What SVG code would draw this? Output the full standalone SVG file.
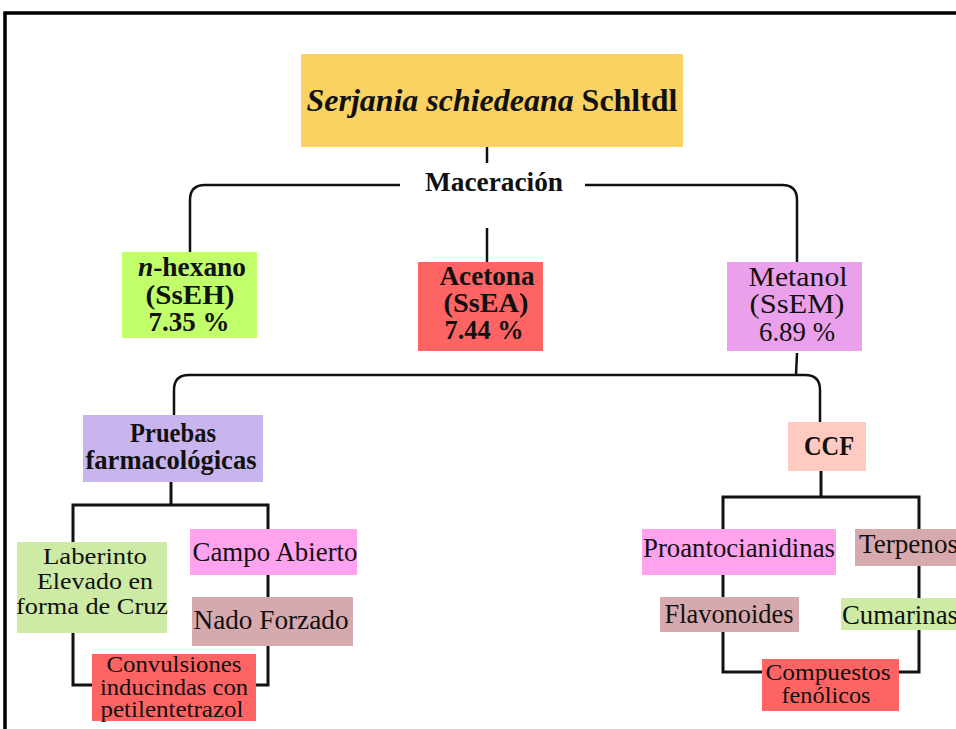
<svg xmlns="http://www.w3.org/2000/svg" width="956" height="729" viewBox="0 0 956 729">
<style>
text{font-family:"Liberation Serif","Times New Roman",serif;fill:#111}
.m{text-anchor:middle}
.s{text-anchor:start}
.b{font-weight:bold;font-size:27px}
.n{font-size:27px}
.t{font-size:24px}
.c1{fill:none;stroke:#111;stroke-width:2.5}
.c2{fill:none;stroke:#111;stroke-width:3}
</style>
<rect x="5" y="13" width="1000" height="800" fill="#fff" stroke="#000" stroke-width="3.5"/>
<g id="connectors">
<path class="c1" d="M487,147 V163"/>
<path class="c1" d="M400,185 H205 Q190,185 190,200 V252"/>
<path class="c1" d="M585,185 H782 Q797,185 797,200 V262"/>
<path class="c1" d="M487,228 V262"/>
<path class="c1" d="M797,353 L796,375"/>
<path class="c1" d="M174,415 V390 Q174,375 189,375 H805 Q820,375 820,390 V422"/>
<path class="c2" d="M171,482 V505"/>
<path class="c2" d="M73,542 V505 H268 V529"/>
<path class="c2" d="M268,575 V597"/>
<path class="c2" d="M268,646 V685 H256"/>
<path class="c2" d="M73,633 V685 H92"/>
<path class="c2" d="M821,471 V497"/>
<path class="c2" d="M723,529 V497 H919 V529"/>
<path class="c2" d="M723,575 V597"/>
<path class="c2" d="M723,632 V672 H762"/>
<path class="c2" d="M919,566 V598"/>
<path class="c2" d="M919,630 V672 H899"/>
</g>
<g id="title">
<rect x="301" y="54" width="382" height="93" fill="#F9D262"/>
<text class="m" x="492" y="111" font-size="32" font-weight="bold" textLength="371" lengthAdjust="spacingAndGlyphs"><tspan font-style="italic">Serjania schiedeana</tspan> Schltdl</text>
</g>
<g id="maceracion">
<text class="b m" x="494" y="191" textLength="138" lengthAdjust="spacingAndGlyphs">Maceración</text>
</g>
<g id="hexano">
<rect x="122" y="252" width="135" height="86" fill="#C0FF6A"/>
<text class="b m" x="192" y="276" textLength="108" lengthAdjust="spacingAndGlyphs"><tspan font-style="italic">n</tspan>-hexano</text>
<text class="b m" x="190" y="304" textLength="89" lengthAdjust="spacingAndGlyphs">(SsEH)</text>
<text class="b m" x="189" y="331" textLength="81" lengthAdjust="spacingAndGlyphs">7.35 %</text>
</g>
<g id="acetona">
<rect x="418" y="262" width="125" height="89" fill="#FF6464"/>
<text class="b m" x="487" y="285" textLength="95" lengthAdjust="spacingAndGlyphs">Acetona</text>
<text class="b m" x="486" y="312" textLength="85" lengthAdjust="spacingAndGlyphs">(SsEA)</text>
<text class="b m" x="484" y="339" textLength="79" lengthAdjust="spacingAndGlyphs">7.44 %</text>
</g>
<g id="metanol">
<rect x="727" y="262" width="135" height="89" fill="#EBA0EB"/>
<text class="n m" x="798" y="286" textLength="99" lengthAdjust="spacingAndGlyphs">Metanol</text>
<text class="n m" x="797" y="313" textLength="95" lengthAdjust="spacingAndGlyphs">(SsEM)</text>
<text class="n m" x="797" y="341" textLength="76" lengthAdjust="spacingAndGlyphs">6.89 %</text>
</g>
<g id="pruebas">
<rect x="83" y="415" width="180" height="67" fill="#C8B5EE"/>
<text class="b m" x="173" y="442" textLength="86" lengthAdjust="spacingAndGlyphs">Pruebas</text>
<text class="b m" x="171" y="469" textLength="171" lengthAdjust="spacingAndGlyphs">farmacológicas</text>
</g>
<g id="ccf">
<rect x="788" y="422" width="78" height="49" fill="#FFCBC0"/>
<text class="b m" x="829" y="455" textLength="50" lengthAdjust="spacingAndGlyphs">CCF</text>
</g>
<g id="laberinto">
<rect x="17" y="542" width="150" height="91" fill="#CDEBA5"/>
<text class="t m" x="95" y="564" textLength="104" lengthAdjust="spacingAndGlyphs">Laberinto</text>
<text class="t m" x="95" y="589" textLength="116" lengthAdjust="spacingAndGlyphs">Elevado en</text>
<text class="t m" x="92" y="614" textLength="152" lengthAdjust="spacingAndGlyphs">forma de Cruz</text>
</g>
<g id="campo">
<rect x="190" y="529" width="167" height="46" fill="#FFA3EE"/>
<text class="n m" x="275" y="561" textLength="165" lengthAdjust="spacingAndGlyphs">Campo Abierto</text>
</g>
<g id="nado">
<rect x="192" y="597" width="161" height="49" fill="#D6A9AE"/>
<text class="n m" x="271" y="629" textLength="155" lengthAdjust="spacingAndGlyphs">Nado Forzado</text>
</g>
<g id="convulsiones">
<rect x="92" y="654" width="164" height="67" fill="#FF6464"/>
<text class="t m" x="174" y="672" textLength="135" lengthAdjust="spacingAndGlyphs">Convulsiones</text>
<text class="t m" x="174" y="695" textLength="148" lengthAdjust="spacingAndGlyphs">inducindas con</text>
<text class="t m" x="172" y="717" textLength="143" lengthAdjust="spacingAndGlyphs">petilentetrazol</text>
</g>
<g id="proanto">
<rect x="642" y="529" width="194" height="46" fill="#FFA3EE"/>
<text class="n m" x="739" y="557" textLength="192" lengthAdjust="spacingAndGlyphs">Proantocianidinas</text>
</g>
<g id="terpenos">
<rect x="855" y="529" width="110" height="37" fill="#D6A9AE"/>
<text class="n s" x="859" y="553" textLength="99" lengthAdjust="spacingAndGlyphs">Terpenos</text>
</g>
<g id="flavonoides">
<rect x="660" y="597" width="139" height="35" fill="#D6A9AE"/>
<text class="n m" x="729" y="623" textLength="129" lengthAdjust="spacingAndGlyphs">Flavonoides</text>
</g>
<g id="cumarinas">
<rect x="841" y="598" width="125" height="32" fill="#CDEBA5"/>
<text class="n s" x="842" y="624" textLength="116" lengthAdjust="spacingAndGlyphs">Cumarinas</text>
</g>
<g id="compuestos">
<rect x="762" y="659" width="137" height="52" fill="#FF6464"/>
<text class="t m" x="828" y="680" textLength="125" lengthAdjust="spacingAndGlyphs">Compuestos</text>
<text class="t m" x="826" y="703" textLength="89" lengthAdjust="spacingAndGlyphs">fenólicos</text>
</g>
</svg>
